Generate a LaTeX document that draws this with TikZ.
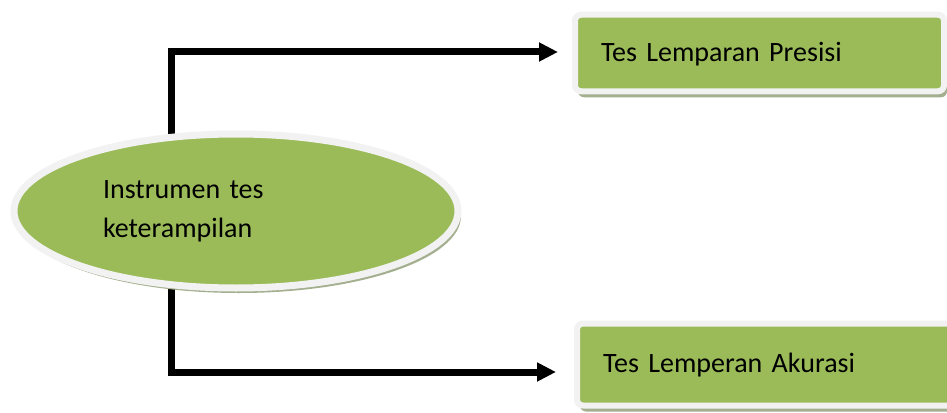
\documentclass[tikz,border=0pt]{standalone}
\usepackage{fontspec}
\setmainfont{Carlito}
\usetikzlibrary{shapes.geometric,shadows,arrows.meta,calc,backgrounds}
\definecolor{mygreen}{HTML}{9BBB59}
\definecolor{rimgray}{HTML}{F2F2F2}
\definecolor{shadowgreen}{HTML}{A3AF8E}
\begin{document}
\begin{tikzpicture}[x=1pt,y=-1pt,
  bigfont/.style={font=\fontsize{28}{39}\selectfont},
  rimshadow/.style={drop shadow={shadow xshift=3pt,shadow yshift=-6pt,fill=shadowgreen,opacity=1}},
  ovalnode/.style={ellipse,fill=mygreen,draw=rimgray,line width=7pt,minimum width=444pt,minimum height=154pt,inner sep=0pt,text width=266pt,align=left,bigfont,
    drop shadow={shadow xshift=3pt,shadow yshift=-5pt,fill=shadowgreen,opacity=1}},
  boxnode/.style={rectangle,rounded corners=6pt,fill=mygreen,draw=rimgray,line width=6pt,inner xsep=26pt,inner ysep=0pt,align=left,bigfont,rimshadow},
  conn/.style={line width=7pt,-{Triangle[length=19pt,width=18pt]}}]
\clip (0,0) rectangle (947,412);
\node[ovalnode] (e) at (236,211) {Instrumen tes\\keterampilan};
\node[boxnode,minimum width=369pt,minimum height=76.5pt,text width=317pt,text height=20pt,text depth=4pt] (p) at (759.5,53) {Tes Lemparan Presisi};
\node[boxnode,minimum width=383pt,minimum height=82pt,text width=331pt,text height=20pt,text depth=5pt] (a) at (768.5,364.5) {Tes Lemperan Akurasi};
\begin{pgfonlayer}{background}
\fill[white] (0,0) rectangle (947,412);
\draw[conn,shorten >=14pt] ($(e.center)+(-65,0)$) |- ($(p.west)+(0,-1)$);
\draw[conn,shorten >=18pt] ($(e.center)+(-65,0)$) |- ($(a.west)+(0,7.5)$);
\end{pgfonlayer}
\end{tikzpicture}
\end{document}
